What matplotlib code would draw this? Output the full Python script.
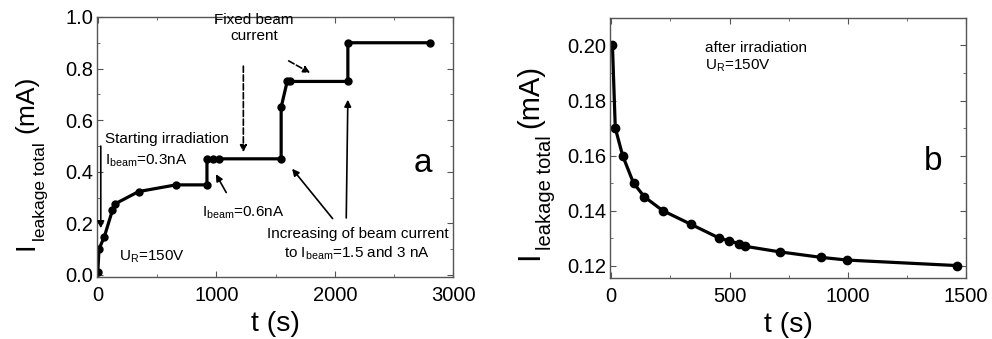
import numpy as np
import matplotlib
matplotlib.use('Agg')
import matplotlib.pyplot as plt
from matplotlib.ticker import MultipleLocator, FormatStrFormatter
from matplotlib.transforms import IdentityTransform

plt.rcParams['font.family'] = ['Liberation Sans', 'DejaVu Sans']
plt.rcParams['mathtext.fontset'] = 'custom'
plt.rcParams['mathtext.rm'] = 'Liberation Sans'
plt.rcParams['mathtext.it'] = 'Liberation Sans'

# panel a: leakage current during irradiation
t_a = [0, 10, 55, 123, 144, 344, 659, 921, 921, 969, 1019, 1547, 1547, 1598, 1625, 2110, 2110, 2800]
i_a = [0.01, 0.10, 0.148, 0.25, 0.275, 0.323, 0.349, 0.349, 0.45, 0.45, 0.45, 0.45, 0.65, 0.75, 0.75, 0.75, 0.90, 0.90]

# panel b: leakage current after irradiation
t_b = [5, 17, 48, 94, 140, 217, 337, 456, 497, 541, 567, 711, 886, 998, 1463]
i_b = [0.200, 0.170, 0.160, 0.150, 0.145, 0.140, 0.135, 0.130, 0.129, 0.128, 0.127, 0.125, 0.123, 0.122, 0.120]

W, H = 992, 339
fig = plt.figure(figsize=(W / 100, H / 100), dpi=100)
ax1 = fig.add_axes([0.098, 0.183, 0.359, 0.767])
ax2 = fig.add_axes([0.615, 0.180, 0.359, 0.767])
renderer = fig.canvas.get_renderer()


def ylabel_origin(x_main, x_sub, y_start, size_i, size_main, size_sub, gap_sub, gap_unit):
    # Origin style label: big I, lowered small subscript, then (mA)
    # x/y in pixels from top-left of the image
    y = H - y_start
    parts = [('I', size_i, x_main, 0), ('leakage total', size_sub, x_sub, gap_sub),
             ('(mA)', size_main, x_main, gap_unit)]
    for txt, size, x, g in parts:
        y += g
        t = fig.text(x, y, txt, fontsize=size, rotation=90, rotation_mode='anchor',
                     ha='left', va='baseline', transform=IdentityTransform())
        y += t.get_window_extent(renderer).height


def style_axes(ax):
    ax.tick_params(which='both', direction='in', top=True, right=True,
                   labelsize=14.5, color='#555555', pad=3)
    ax.tick_params(axis='x', pad=6.5)
    ax.tick_params(which='major', length=4)
    ax.tick_params(which='minor', length=2.5)
    for s in ax.spines.values():
        s.set_color('#555555')
        s.set_linewidth(1.0)


ax1.plot(t_a, i_a, '-o', color='black', lw=2.3, ms=5)
ax1.set_xlim(-5, 3000)
ax1.set_ylim(-0.008, 1.0)
ax1.xaxis.set_major_locator(MultipleLocator(1000))
ax1.xaxis.set_minor_locator(MultipleLocator(500))
ax1.yaxis.set_major_locator(MultipleLocator(0.2))
ax1.yaxis.set_minor_locator(MultipleLocator(0.1))
ax1.set_xlabel('t (s)', fontsize=20.5, labelpad=4)
style_axes(ax1)
ylabel_origin(33, 45, 250, 20, 19, 12.5, 1, 10)

fs = 11
ax1.text(60, 0.50, 'Starting irradiation', fontsize=fs, va='bottom')
ax1.text(60, 0.41, r'I$_{\rm beam}$=0.3nA', fontsize=fs, va='bottom')
ax1.annotate('', xy=(25, 0.17), xytext=(25, 0.51),
             arrowprops=dict(arrowstyle='-|>', color='black', lw=1.2, mutation_scale=10))
ax1.text(880, 0.21, r'I$_{\rm beam}$=0.6nA', fontsize=fs, va='bottom')
ax1.annotate('', xy=(985, 0.40), xytext=(1095, 0.31),
             arrowprops=dict(arrowstyle='-|>', color='black', lw=1.2, mutation_scale=10))
ax1.text(1320, 0.90, 'Fixed beam\ncurrent', fontsize=fs, ha='center', va='bottom',
         linespacing=1.2)
ax1.annotate('', xy=(1228, 0.465), xytext=(1228, 0.82),
             arrowprops=dict(arrowstyle='-|>', color='black', lw=1.2, ls='--',
                             mutation_scale=10))
ax1.annotate('', xy=(1812, 0.778), xytext=(1590, 0.835),
             arrowprops=dict(arrowstyle='-|>', color='black', lw=1.2, ls='--',
                             mutation_scale=10))
ax1.text(2190, 0.05, 'Increasing of beam current\nto I$_{\\rm beam}$=1.5 and 3 nA',
         fontsize=fs, ha='center', va='bottom', linespacing=1.25)
ax1.annotate('', xy=(1625, 0.42), xytext=(1996, 0.21),
             arrowprops=dict(arrowstyle='-|>', color='black', lw=1.2, mutation_scale=10))
ax1.annotate('', xy=(2110, 0.69), xytext=(2096, 0.21),
             arrowprops=dict(arrowstyle='-|>', color='black', lw=1.2, mutation_scale=10))
ax1.text(175, 0.04, r'U$_{\rm R}$=150V', fontsize=fs, va='bottom')
ax1.text(2745, 0.43, 'a', fontsize=24, ha='center', va='center')

ax2.plot(t_b, i_b, '-o', color='black', lw=2.3, ms=6)
ax2.set_xlim(-5, 1500)
ax2.set_ylim(0.1155, 0.21)
ax2.xaxis.set_major_locator(MultipleLocator(500))
ax2.xaxis.set_minor_locator(MultipleLocator(250))
ax2.yaxis.set_major_locator(MultipleLocator(0.02))
ax2.yaxis.set_minor_locator(MultipleLocator(0.01))
ax2.yaxis.set_major_formatter(FormatStrFormatter('%.2f'))
ax2.set_xlabel('t (s)', fontsize=20.5, labelpad=4)
style_axes(ax2)
ylabel_origin(538, 551, 260, 22, 21, 14.5, 1, 8)

ax2.text(395, 0.1965, 'after irradiation', fontsize=fs, va='bottom')
ax2.text(395, 0.1895, r'U$_{\rm R}$=150V', fontsize=fs, va='bottom')
ax2.text(1360, 0.158, 'b', fontsize=24, ha='center', va='center')

fig.savefig('out.png', dpi=100)
